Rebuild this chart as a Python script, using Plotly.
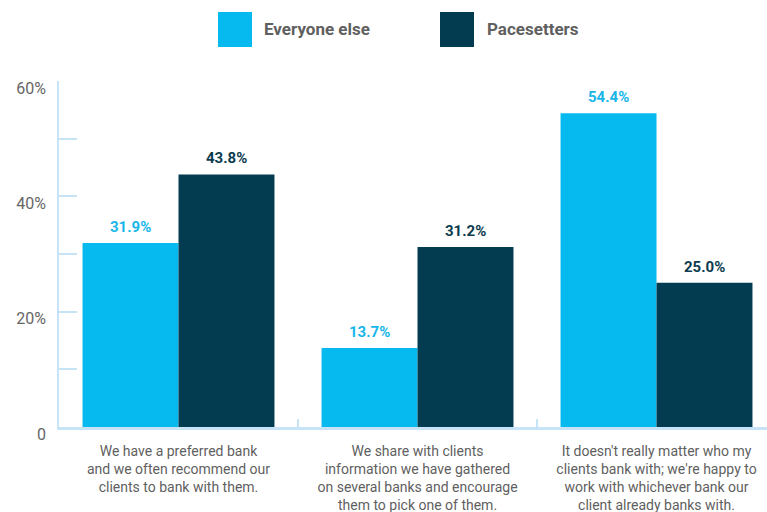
import plotly.graph_objects as go

# Survey answers (x categories) and share of respondents per group
categories = [
    "We have a preferred bank<br>and we often recommend our<br>clients to bank with them.",
    "We share with clients<br>information we have gathered<br>on several banks and encourage<br>them to pick one of them.",
    "It doesn't really matter who my<br>clients bank with; we're happy to<br>work with whichever bank our<br>client already banks with.",
]
series_names = ["Everyone else", "Pacesetters"]
everyone_else = [31.9, 13.7, 54.4]
pacesetters = [43.8, 31.2, 25.0]
y_tickvals = [0, 20, 40, 60]
y_ticktext = ["0", "20%", "40%", "60%"]

LIGHT = "#06b9ee"
DARK = "#033c51"
LIGHT_TEXT = "#19b6ea"
DARK_TEXT = "#0b3b4e"
AXIS = "#c6e4f5"
GRAY = "#5f5f5f"
FONT = "Roboto, Arial, sans-serif"

fig = go.Figure()
for name, vals, color in [(series_names[0], everyone_else, LIGHT),
                          (series_names[1], pacesetters, DARK)]:
    fig.add_trace(go.Bar(x=categories, y=vals, name=name,
                         marker=dict(color=color, line=dict(width=0)),
                         showlegend=False, hoverinfo="skip"))

# Value labels above each bar
for vals, color, shift in [(everyone_else, LIGHT_TEXT, -48), (pacesetters, DARK_TEXT, 48)]:
    for cat, v in zip(categories, vals):
        fig.add_annotation(x=cat, y=v, xref="x", yref="y", text=f"{v:.1f}%",
                           showarrow=False, xshift=shift, yshift=16,
                           font=dict(family=FONT, size=15, color=color, weight="bold"))

# Legend drawn as large swatches with labels at the top
W, H, L, T = 767, 512, 59, 81
PW, PH = W - L, H - T - 85

def px_x(p):
    return (p - L) / PW

def px_y(p):
    return (H - 85 - p) / PH

for (x0, x1, tx), name, color in zip([(218, 252, 262), (440, 474, 485)], series_names, [LIGHT, DARK]):
    fig.add_shape(type="rect", xref="paper", yref="paper",
                  x0=px_x(x0), x1=px_x(x1), y0=px_y(47), y1=px_y(12),
                  fillcolor=color, line=dict(width=0))
    fig.add_annotation(xref="paper", yref="paper", x=px_x(tx), y=px_y(29),
                       xanchor="left", yanchor="middle", showarrow=False, text=name,
                       font=dict(family=FONT, size=17, color=GRAY, weight="bold"))

fig.update_layout(
    width=W, height=H,
    margin=dict(l=L, r=0, t=T, b=85),
    paper_bgcolor="white", plot_bgcolor="white",
    barmode="group", bargap=0.197, bargroupgap=0,
    font=dict(family=FONT, color=GRAY),
)
fig.update_xaxes(
    type="category", range=[-0.5, 2.4623], automargin=False,
    tickson="boundaries", ticks="inside", ticklen=8, tickcolor=AXIS, tickwidth=1.5,
    showline=True, linecolor=AXIS, linewidth=2.5,
    showgrid=False, zeroline=False,
    tickfont=dict(family=FONT, size=14, color=GRAY),
    ticklabelstandoff=9,
)
fig.update_yaxes(
    range=[0, 60], tickmode="array", tickvals=y_tickvals, ticktext=y_ticktext,
    automargin=False,
    ticks="inside", ticklen=18, tickcolor=AXIS, tickwidth=1.5,
    minor=dict(tickmode="array", tickvals=[10, 30, 50], ticks="inside",
               ticklen=18, tickcolor=AXIS, tickwidth=1.5),
    showline=True, linecolor=AXIS, linewidth=1.5,
    showgrid=False, zeroline=False,
    tickfont=dict(family=FONT, size=16, color="#666666"),
    ticklabelstandoff=8, ticklabelshift=7,
)

fig.write_html("out.html")
